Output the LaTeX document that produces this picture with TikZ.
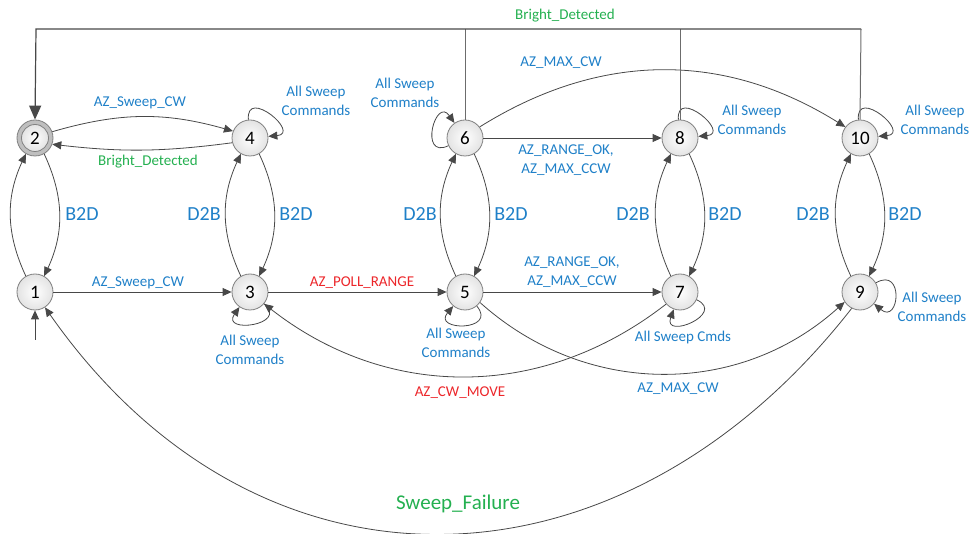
\documentclass[tikz,border=0pt]{standalone}
\usepackage{fontspec}
\setmainfont{Carlito}
\usetikzlibrary{arrows.meta}

\definecolor{lblblue}{RGB}{31,128,200}
\definecolor{lblred}{RGB}{236,38,42}
\definecolor{lblgreen}{RGB}{36,176,80}
\definecolor{edgegray}{RGB}{72,72,72}
\definecolor{ringgray}{RGB}{128,128,128}

\tikzset{
  state/.style={circle, draw=ringgray, line width=0.8pt, minimum size=36pt,
    inner sep=0pt, inner color=white, outer color=gray!22,
    font=\fontsize{19}{19}\selectfont},
  ringstate/.style={circle, draw=ringgray, line width=0.8pt, minimum size=36pt,
    inner sep=0pt, fill=gray!50},
  trans/.style={draw=edgegray, line width=0.8pt, -{Triangle[length=9pt,width=8pt]}},
  selfloop/.style={trans, distance=33pt},
  topline/.style={draw=edgegray, line width=1.2pt},
  dropline/.style={draw=gray!85!black, line width=1pt},
  lbl/.style={font=\fontsize{15}{18.5}\selectfont, align=center, text=lblblue, inner sep=0pt},
  biglbl/.style={font=\fontsize{20}{20}\selectfont, text=lblblue, inner sep=0pt},
}

\begin{document}
\begin{tikzpicture}[x=1pt,y=1pt]
\useasboundingbox (0,0) rectangle (974,533);

% states
\node[state] (n1) at (35,241) {1};
\node[ringstate] (n2) at (35,395) {};
\node[state, minimum size=27pt] (n2core) at (n2) {2};
\node[state] (n3) at (250,241) {3};
\node[state] (n4) at (250,395) {4};
\node[state] (n5) at (465,241) {5};
\node[state] (n6) at (465,395) {6};
\node[state] (n7) at (680,241) {7};
\node[state] (n8) at (680,395) {8};
\node[state] (n9) at (860,241) {9};
\node[state] (n10) at (860,395) {10};

% entry into state 1
\coordinate (init) at (35,193);
\draw[trans] (init) -- (n1);

% D2B up the left side, B2D down the right side of each pair
\foreach \lo/\up in {1/2,3/4,5/6,7/8,9/10}{
  \draw[trans] (n\lo.120) to[out=115,in=245] (n\up.240);
  \draw[trans] (n\up.300) to[out=295,in=65] (n\lo.60);
}

% horizontal transitions
\draw[trans] (n2.20) to[bend left=16] (n4.158);
\draw[trans] (n4.195) to[bend left=7] (n2.340);
\draw[trans] (n1) -- (n3);
\draw[trans] (n3) -- (n5);
\draw[trans] (n5) -- (n7);
\draw[trans] (n6) -- (n8);
\draw[trans] (n6.37) to[bend left=32] (n10.143);
\draw[trans] (n5.-35) to[bend right=42] (n9.213);
\draw[trans] (n7.221) to[bend left=38] (n3.-40);
\draw[trans] (n9.243) to[out=232,in=305,looseness=1.19] (n1.303);

% self loops
\draw[selfloop] (n4) to[out=95,in=5] (n4);
\draw[selfloop] (n8) to[out=95,in=5] (n8);
\draw[selfloop] (n10) to[out=95,in=5] (n10);
\draw[selfloop] (n3) to[out=-40,in=-125] (n3);
\draw[selfloop] (n5) to[out=-50,in=-130] (n5);
\draw[selfloop] (n7) to[out=-25,in=-110] (n7);
\draw[selfloop] (n6) to[out=205,in=125] (n6);
\draw[selfloop] (n9) to[out=30,in=-40] (n9);

% Bright_Detected bus back to state 2
\coordinate (t6) at (465,504);
\coordinate (t8) at (680,504);
\coordinate (t10) at (861,504);
\coordinate (tl) at (36,504);
\draw[dropline] (n6.north) -- (t6);
\draw[dropline] (n8.north) -- (t8);
\draw[dropline] (n10.north) -- (t10);
\draw[topline, -{Triangle[length=14pt,width=12pt]}] (t10) -- (tl) -- (n2.north);

% labels
\node[lbl, text=lblgreen] (lbright) at (565,517) {Bright\_Detected};
\node[lbl] (l24) at (140,430) {AZ\_Sweep\_CW};
\node[lbl, text=lblgreen] (l42) at (148,371) {Bright\_Detected};
\node[lbl] (l13) at (138,250) {AZ\_Sweep\_CW};
\node[lbl, text=lblred] (l35) at (362,250) {AZ\_POLL\_RANGE};
\node[lbl] (l68) at (566,373) {AZ\_RANGE\_OK,\\AZ\_MAX\_CCW};
\node[lbl] (l57) at (572,261) {AZ\_RANGE\_OK,\\AZ\_MAX\_CCW};
\node[lbl] (l610) at (561,470) {AZ\_MAX\_CW};
\node[lbl] (l59) at (678,144) {AZ\_MAX\_CW};
\node[lbl, text=lblred] (l73) at (460,140) {AZ\_CW\_MOVE};
\node[lbl, text=lblgreen, font=\fontsize{21}{21}\selectfont] (l91) at (458,29) {Sweep\_Failure};

\node[biglbl] (b21) at (82,319) {B2D};
\node[biglbl] (d34) at (204,319) {D2B};
\node[biglbl] (b43) at (296,319) {B2D};
\node[biglbl] (d56) at (420,319) {D2B};
\node[biglbl] (b65) at (511,319) {B2D};
\node[biglbl] (d78) at (633,319) {D2B};
\node[biglbl] (b87) at (725,319) {B2D};
\node[biglbl] (d910) at (813,319) {D2B};
\node[biglbl] (b109) at (905,319) {B2D};

\node[lbl] (s4) at (316,432) {All Sweep\\Commands};
\node[lbl] (s3) at (250,183) {All Sweep\\Commands};
\node[lbl] (s5) at (456,190) {All Sweep\\Commands};
\node[lbl] (s6) at (405,440) {All Sweep\\Commands};
\node[lbl] (s7) at (683,195) {All Sweep Cmds};
\node[lbl] (s8) at (752,413) {All Sweep\\Commands};
\node[lbl] (s9) at (932,226) {All Sweep\\Commands};
\node[lbl] (s10) at (935,413) {All Sweep\\Commands};
\end{tikzpicture}
\end{document}
